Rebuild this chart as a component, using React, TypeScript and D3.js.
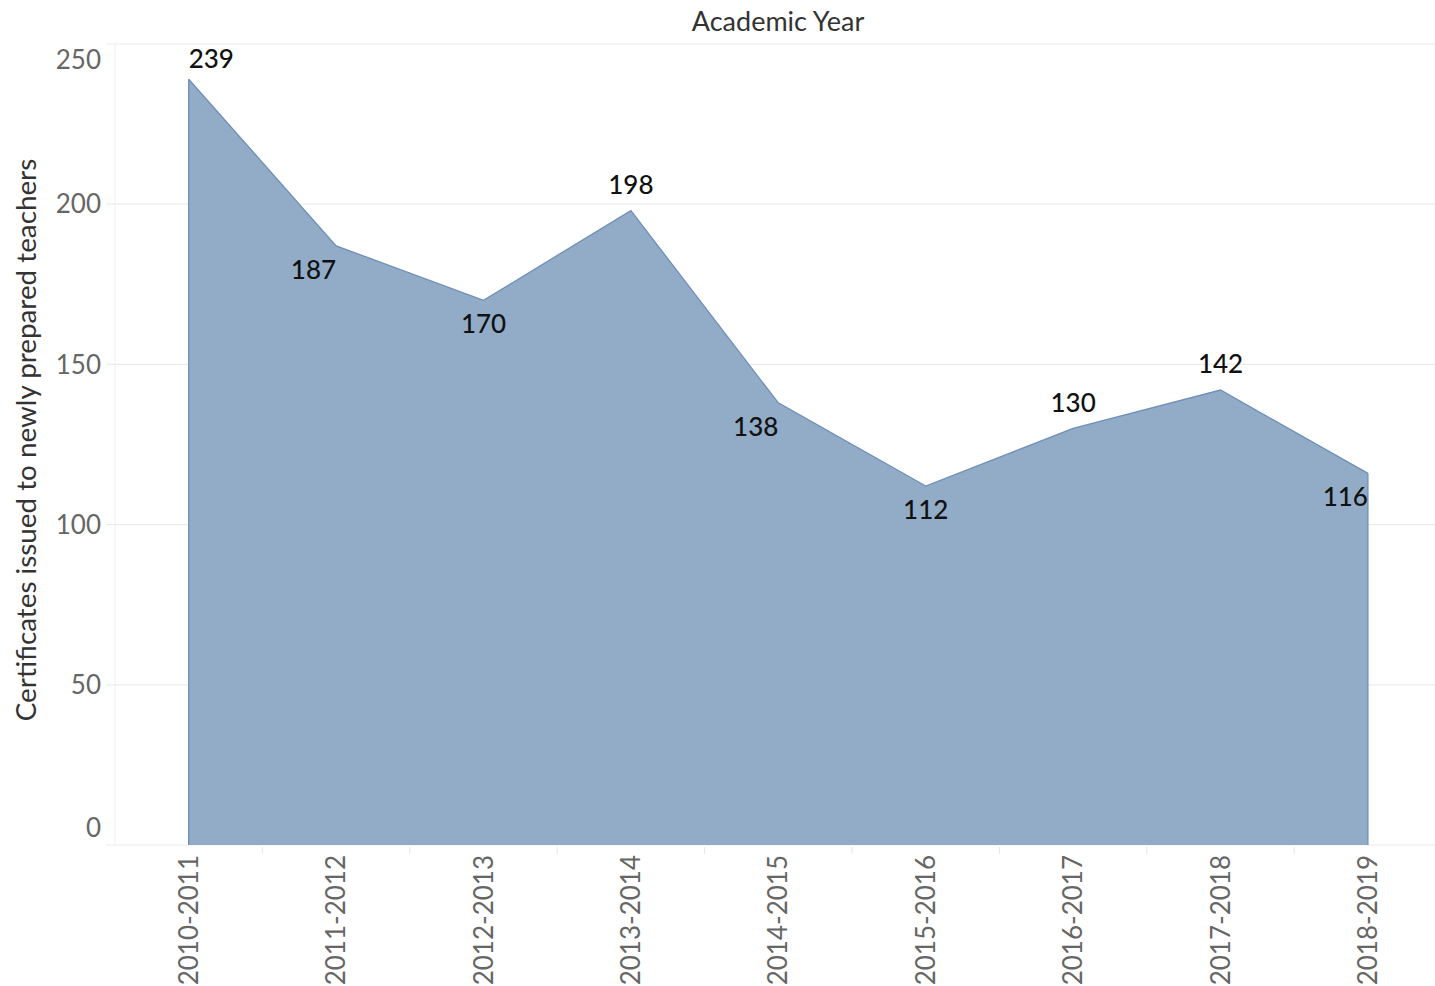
import React from "react";
import * as d3 from "d3";

const years = ["2010-2011","2011-2012","2012-2013","2013-2014","2014-2015","2015-2016","2016-2017","2017-2018","2018-2019"];
const certificates = [239, 187, 170, 198, 138, 112, 130, 142, 116];
const yTicks = [0, 50, 100, 150, 200, 250];
// label layout: vertical side and horizontal anchor
const labelSide = ["above","below","below","above","below","below","above","above","below"];
const labelAnchor = ["start","end","middle","middle","end","middle","middle","middle","end"];

const W = 1435, H = 986;
const left = 115, top = 44, bottom = 845;
const step = 147.4;

export default function App() {
  const x = d3.scaleBand<string>().domain(years).range([left, left + step * years.length]).padding(0);
  const y = d3.scaleLinear().domain([0, 250]).range([bottom, top]);
  const cx = (d: string) => (x(d) as number) + x.bandwidth() / 2;
  const area = d3.area<number>()
    .x((_, i) => cx(years[i]))
    .y0(y(0))
    .y1((d) => y(d));
  const line = d3.line<number>().x((_, i) => cx(years[i])).y((d) => y(d));
  const font = "Lato, 'Open Sans', sans-serif";
  return (
    <svg width={W} height={H} style={{ position: "absolute", left: 0, top: 0, background: "#fff" }} fontFamily={font}>
      <text x={778} y={31} textAnchor="middle" fontSize={27} fill="#333">Academic Year</text>
      {yTicks.map((t) => (
        <line key={t} x1={106} x2={W} y1={y(t)} y2={y(t)} stroke="#ececec" strokeWidth={1.2} />
      ))}
      <line x1={left} x2={left} y1={top} y2={bottom + 2} stroke="#f0f0f0" />
      {years.map((d, i) => i > 0 && (
        <line key={d} x1={x(d)} x2={x(d)} y1={bottom + 2} y2={bottom + 9} stroke="#e6e6e6" />
      ))}
      <path d={area(certificates) || ""} fill="#92acc8" />
      <path d={line(certificates) || ""} fill="none" stroke="#6f8fb8" strokeWidth={1.3} />
      <line x1={cx(years[0])} x2={cx(years[0])} y1={y(certificates[0])} y2={bottom} stroke="#6f8fb8" strokeWidth={1.3} />
      <line x1={cx(years[years.length-1])} x2={cx(years[years.length-1])} y1={y(certificates[certificates.length-1])} y2={bottom} stroke="#6f8fb8" strokeWidth={1.3} />
      {yTicks.map((t) => {
        let yy = y(t);
        if (t === 250) yy += 16;
        if (t === 0) yy -= 17;
        return (
          <text key={t} x={101} y={yy} dy="0.35em" textAnchor="end" fontSize={26} fill="#666">{t}</text>
        );
      })}
      <text transform={`translate(36,440) rotate(-90)`} textAnchor="middle" fontSize={27.8} fill="#333">
        Certificates issued to newly prepared teachers
      </text>
      {years.map((d) => (
        <text key={d} transform={`translate(${cx(d)},855) rotate(-90)`} textAnchor="end" dy="0.35em" fontSize={26} fill="#666">{d}</text>
      ))}
      {certificates.map((v, i) => {
        const px = cx(years[i]);
        const py = y(v) + (labelSide[i] === "above" ? (i === 0 ? -20 : -26) : 24);
        return (
          <text key={i} x={px} y={py} dy="0.35em" textAnchor={labelAnchor[i]} fontSize={26} fontWeight={500} fill="#111">{v}</text>
        );
      })}
    </svg>
  );
}
